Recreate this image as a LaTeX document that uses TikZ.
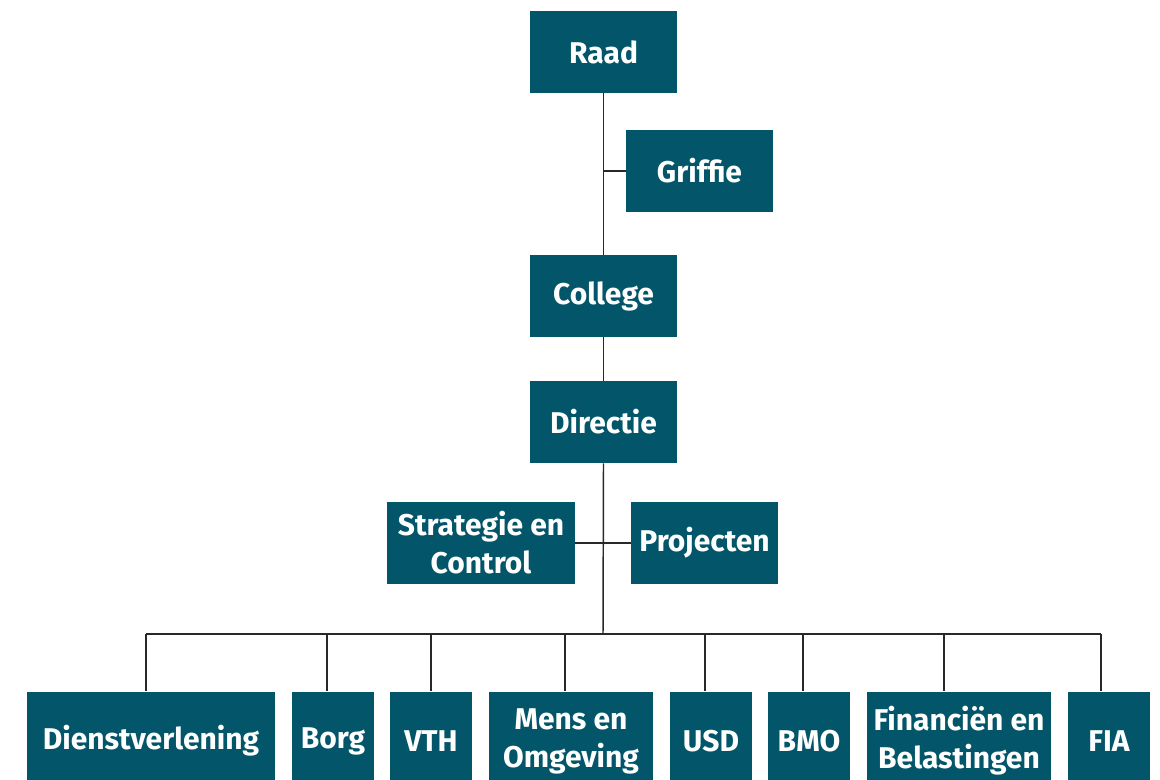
\documentclass[tikz,border=0pt]{standalone}
\usepackage{fontspec}
\setmainfont{Fira Sans}
\definecolor{boxfill}{RGB}{3,86,105}
\definecolor{linecol}{RGB}{40,40,40}
\begin{document}
\begin{tikzpicture}[x=0.75pt,y=-0.75pt,
  orgbox/.style={fill=boxfill,draw=none,text=white,inner sep=0pt,align=center,
    minimum height=61.5pt,font=\fontsize{22.5}{28.5}\selectfont\bfseries},
  w147/.style={minimum width=110.25pt},
  lowbox/.style={orgbox,minimum height=74.25pt},
  conn/.style={draw=linecol,line width=1.1pt}]
\clip (0,0) rectangle (1160,780);
\fill[white] (0,0) rectangle (1160,780);
% top column
\node[orgbox,w147] (raad) at (603.5,52) {Raad};
\node[orgbox,w147] (griffie) at (699.5,171) {Griffie};
\node[orgbox,w147] (college) at (603.5,296) {College};
\node[orgbox,w147] (directie) at (603.5,422) {Directie};
\node[orgbox,minimum width=141pt] (strat) at (481,543) {Strategie en\\Control};
\node[orgbox,w147] (proj) at (704.5,543) {Projecten};
% bottom row
\node[lowbox,minimum width=186pt] (dv) at (151,741) {Dienstverlening};
\node[lowbox,minimum width=61.5pt] (borg) at (333,741) {Borg};
\node[lowbox,minimum width=61.5pt] (vth) at (431,741) {VTH};
\node[lowbox,minimum width=123pt] (mens) at (571,741) {Mens en\\Omgeving};
\node[lowbox,minimum width=61.5pt] (usd) at (711,741) {USD};
\node[lowbox,minimum width=61.5pt] (bmo) at (809,741) {BMO};
\node[lowbox,minimum width=138pt] (fin) at (959,741) {Financiën en\\Belastingen};
\node[lowbox,minimum width=61.5pt] (fia) at (1109,741) {FIA};
% bus coordinates
\coordinate (bus) at (603,634);
\coordinate (b1) at (146,634);
\coordinate (b2) at (327,634);
\coordinate (b3) at (431,634);
\coordinate (b4) at (565,634);
\coordinate (b5) at (705,634);
\coordinate (b6) at (803,634);
\coordinate (b7) at (944,634);
\coordinate (b8) at (1101,634);
% connectors
\draw[conn] (raad.south) -- (college.north);
\draw[conn] (raad.south |- griffie.west) -- (griffie.west);
\draw[conn] (college.south) -- (directie.north);
\draw[conn] (directie.south) -- (bus);
\draw[conn] (strat.east) -- (proj.west);
\draw[conn] (b1) -- (b8);
\draw[conn] (b1) -- (b1 |- dv.north);
\draw[conn] (b2) -- (b2 |- borg.north);
\draw[conn] (b3) -- (b3 |- vth.north);
\draw[conn] (b4) -- (b4 |- mens.north);
\draw[conn] (b5) -- (b5 |- usd.north);
\draw[conn] (b6) -- (b6 |- bmo.north);
\draw[conn] (b7) -- (b7 |- fin.north);
\draw[conn] (b8) -- (b8 |- fia.north);
\end{tikzpicture}
\end{document}
